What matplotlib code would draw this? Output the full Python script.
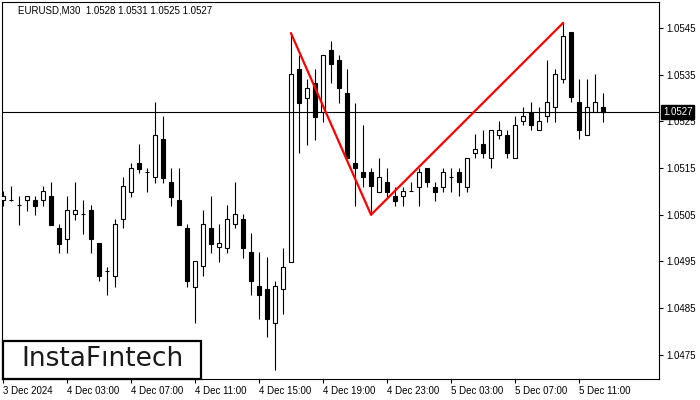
import matplotlib
matplotlib.use("Agg")
import matplotlib.pyplot as plt
import matplotlib.transforms as mtransforms
from matplotlib.patches import Rectangle
import numpy as np

plt.rcParams["font.family"] = ["Liberation Sans", "DejaVu Sans"]

# EURUSD M30 candles, 3 Dec 23:00 -> 5 Dec 12:30
opens = [1.05082, 1.05082, 1.05071, 1.05082, 1.05082, 1.05082, 1.05090, 1.05022, 1.04998, 1.05052,
         1.05052, 1.05060, 1.04990, 1.04929, 1.04919, 1.05041, 1.05099, 1.05161, 1.05142, 1.05131,
         1.05212, 1.05120, 1.05082, 1.05022, 1.04895, 1.04940, 1.05022, 1.04981, 1.04979, 1.05030,
         1.05041, 1.04970, 1.04897, 1.04891, 1.04818, 1.04891, 1.04949, 1.05362, 1.05300, 1.05332,
         1.05270, 1.05403, 1.05381, 1.05311, 1.05161, 1.05142, 1.05142, 1.05099, 1.05120, 1.05090,
         1.05090, 1.05101, 1.05110, 1.05150, 1.05110, 1.05110, 1.05131, 1.05142, 1.05110, 1.05182,
         1.05202, 1.05172, 1.05221, 1.05221, 1.05172, 1.05251, 1.05270, 1.05232, 1.05261, 1.05281,
         1.05341, 1.05441, 1.05292, 1.05221, 1.05270, 1.05281]
highs = [1.05101, 1.05112, 1.05090, 1.05090, 1.05090, 1.05112, 1.05120, 1.05030, 1.05090, 1.05120,
         1.05082, 1.05071, 1.04990, 1.04938, 1.05041, 1.05131, 1.05161, 1.05202, 1.05150, 1.05292,
         1.05261, 1.05150, 1.05150, 1.05030, 1.04951, 1.05060, 1.05090, 1.05030, 1.05071, 1.05120,
         1.05052, 1.05011, 1.04970, 1.04960, 1.04908, 1.04979, 1.05439, 1.05392, 1.05341, 1.05362,
         1.05392, 1.05422, 1.05392, 1.05362, 1.05289, 1.05242, 1.05150, 1.05172, 1.05150, 1.05110,
         1.05110, 1.05120, 1.05150, 1.05150, 1.05120, 1.05150, 1.05150, 1.05150, 1.05172, 1.05223,
         1.05232, 1.05232, 1.05251, 1.05232, 1.05261, 1.05281, 1.05292, 1.05281, 1.05381, 1.05362,
         1.05461, 1.05441, 1.05341, 1.05341, 1.05352, 1.05311]
lows = [1.05069, 1.05080, 1.05028, 1.05058, 1.05050, 1.05069, 1.05028, 1.04968, 1.04968, 1.05039,
        1.05009, 1.04968, 1.04908, 1.04878, 1.04895, 1.05022, 1.05088, 1.05140, 1.05099, 1.05118,
        1.05118, 1.05069, 1.05028, 1.04895, 1.04818, 1.04919, 1.04968, 1.04949, 1.04968, 1.05022,
        1.04957, 1.04878, 1.04827, 1.04788, 1.04718, 1.04838, 1.04949, 1.05182, 1.05199, 1.05210,
        1.05249, 1.05332, 1.05289, 1.05172, 1.05069, 1.05110, 1.05050, 1.05099, 1.05088, 1.05069,
        1.05069, 1.05101, 1.05069, 1.05110, 1.05080, 1.05099, 1.05099, 1.05090, 1.05099, 1.05172,
        1.05172, 1.05150, 1.05212, 1.05172, 1.05172, 1.05242, 1.05232, 1.05232, 1.05249, 1.05249,
        1.05332, 1.05292, 1.05212, 1.05221, 1.05270, 1.05249]
closes = [1.05090, 1.05082, 1.05071, 1.05090, 1.05069, 1.05101, 1.05028, 1.04987, 1.05060, 1.05060,
          1.05052, 1.04998, 1.04919, 1.04929, 1.05030, 1.05112, 1.05150, 1.05148, 1.05142, 1.05221,
          1.05129, 1.05088, 1.05028, 1.04908, 1.04951, 1.05030, 1.04987, 1.04990, 1.05041, 1.05052,
          1.04979, 1.04908, 1.04878, 1.04827, 1.04897, 1.04938, 1.05352, 1.05289, 1.05322, 1.05259,
          1.05392, 1.05373, 1.05322, 1.05172, 1.05150, 1.05131, 1.05112, 1.05131, 1.05099, 1.05080,
          1.05101, 1.05101, 1.05142, 1.05120, 1.05099, 1.05142, 1.05131, 1.05120, 1.05172, 1.05191,
          1.05182, 1.05232, 1.05232, 1.05182, 1.05242, 1.05261, 1.05242, 1.05251, 1.05292, 1.05352,
          1.05433, 1.05302, 1.05232, 1.05281, 1.05292, 1.05270]

time_labels = ["3 Dec 2024", "4 Dec 03:00", "4 Dec 07:00", "4 Dec 11:00", "4 Dec 15:00",
               "4 Dec 19:00", "4 Dec 23:00", "5 Dec 03:00", "5 Dec 07:00", "5 Dec 11:00"]
price_ticks = [1.0475, 1.0485, 1.0495, 1.0505, 1.0515, 1.0525, 1.0535, 1.0545]
bid_price = 1.0527
title = "EURUSD,M30  1.0528 1.0531 1.0525 1.0527"

# double top: first top (high), neck (low), second top (high)
top1, neck, top2 = 36, 46, 70

o = np.array(opens)
h = np.array(highs)
l = np.array(lows)
c = np.array(closes)
x = np.arange(len(o))
up = c >= o

fig = plt.figure(figsize=(7, 4), dpi=100)
ax = fig.add_axes([2 / 700, 21 / 400, 657 / 700, 377 / 400])

ax.vlines(x, l, h, color="black", lw=0.8, zorder=2)
ax.bar(x, np.abs(c - o), bottom=np.minimum(o, c), width=0.62,
       color=np.where(up, "white", "black"), edgecolor="black", lw=0.8, zorder=3)

ax.axhline(bid_price, color="black", lw=0.8, zorder=4)
ax.plot([top1, neck, top2], [h[top1], l[neck], h[top2]], color="#ff0000", lw=1.6, zorder=5)

ax.set_xlim(-0.125, 82)
ax.set_ylim(1.04698, 1.05506)

ax.yaxis.tick_right()
ax.set_yticks(price_ticks)
ax.set_yticklabels([f"{p:.4f}" for p in price_ticks])
ax.set_xticks(np.arange(0, len(o), 8))
ax.set_xticklabels(time_labels, ha="left")
ax.tick_params(length=3, width=0.8, labelsize=7, pad=2, colors="black")
for s in ax.spines.values():
    s.set_linewidth(0.8)
    s.set_color("black")

trans = mtransforms.blended_transform_factory(ax.transAxes, ax.transData)
ax.text(1.0 + 4 / 657, bid_price, f"{bid_price:.4f}", transform=trans, ha="left", va="center",
        color="white", fontsize=7, clip_on=False, zorder=6,
        bbox=dict(facecolor="black", edgecolor="black", pad=1.2))

fig.text(18 / 700, 1 - 10.5 / 400, title, fontsize=7, ha="left", va="center")

logo = Rectangle((3 / 700, 21 / 400), 198 / 700, 38 / 400, transform=fig.transFigure,
                 facecolor="white", edgecolor="black", lw=1.6, zorder=10)
fig.add_artist(logo)
fig.text(102 / 700, 1 - 359 / 400, "InstaFıntech", fontsize=19, ha="center", va="center",
         color="#1a1a1a", family="DejaVu Sans", zorder=11)

fig.savefig("out.png", dpi=100)
